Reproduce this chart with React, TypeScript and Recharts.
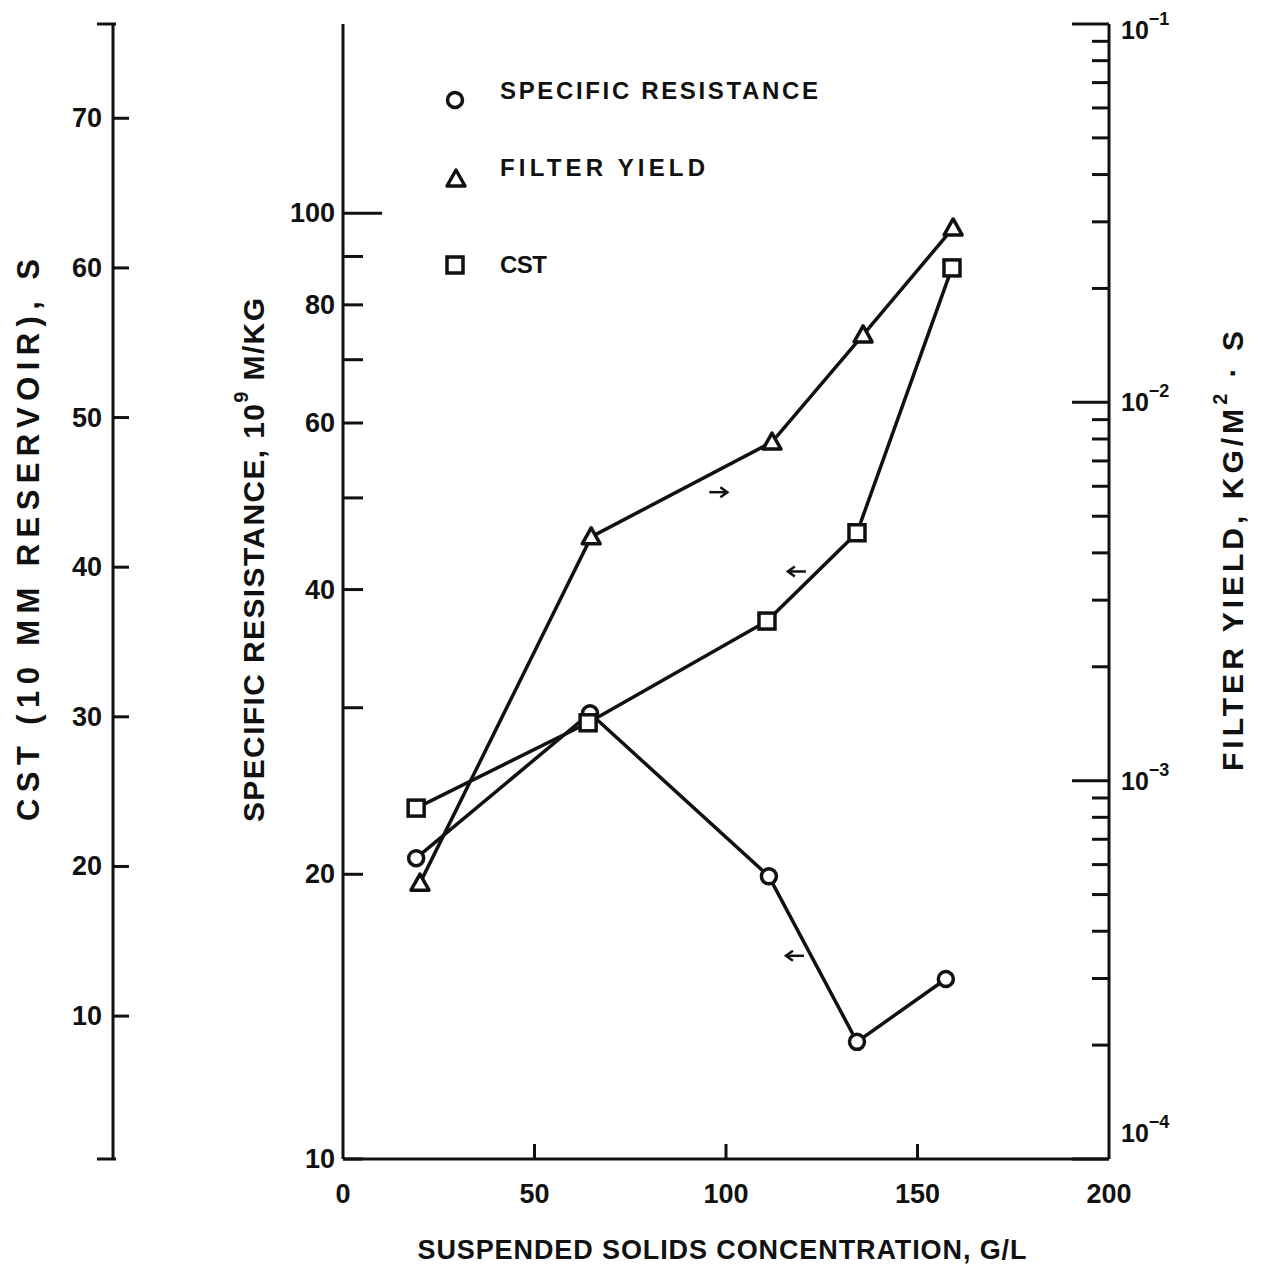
import React from 'react';
import { ComposedChart, Line, XAxis, YAxis, ReferenceDot, Legend } from 'recharts';

// suspended solids concentration (g/L) of each measured sample, per series
const srConc = [19.1, 64.5, 111.2, 134.2, 157.4];
const specificResistance = [20.8, 29.6, 19.9, 13.3, 15.5]; // 10^9 m/kg
const fyConc = [20.1, 64.8, 112.0, 135.8, 159.3];
const filterYield = [5.36e-4, 4.41e-3, 7.85e-3, 0.01507, 0.0289]; // kg/m2.s
const cstConc = [19.1, 64.0, 110.7, 134.2, 159.0];
const cstSeconds = [23.9, 29.6, 36.4, 42.3, 60.0]; // s, 10 mm reservoir

const xTicks = [0, 50, 100, 150, 200];
const srTicks = [10, 20, 30, 40, 50, 60, 70, 80, 90, 100];
const srLabelled = [10, 20, 40, 60, 80, 100];
const fyDecades = [1e-4, 1e-3, 1e-2, 1e-1];
const cstTicks = [10, 20, 30, 40, 50, 60, 70];

const srDomain = [10, 158.5];
const fyDomain = [1e-4, 1e-1];
const cstDomain = [0.45, 76.3];

// axis ids; the left axes are stacked outward from the plot in id order
const SR_AXIS = 'a-resistance';
const CST_AXIS = 'b-cst';
const FY_AXIS = 'c-yield';

// little arrows telling which scale each curve is read against
const pointers = [
  { x: 98, y: 50.7, dir: 1 },
  { x: 118.5, y: 41.8, dir: -1 },
  { x: 118, y: 16.4, dir: -1 },
];

const INK = '#111';
const FONT = '"Liberation Sans", Arial, Helvetica, sans-serif';
const STROKE = 3.5;

const toPoints = (xs: number[], ys: number[]) => xs.map((x, i) => ({ x, y: ys[i] }));
const srData = toPoints(srConc, specificResistance);
const fyData = toPoints(fyConc, filterYield);
const cstData = toPoints(cstConc, cstSeconds);

const fyTicks = [
  ...fyDecades.slice(0, -1).flatMap((d) => [1, 2, 3, 4, 5, 6, 7, 8, 9].map((m) => d * m)),
  fyDecades[fyDecades.length - 1],
];
const isDecade = (v: number) => Math.abs(Math.log10(v) - Math.round(Math.log10(v))) < 1e-6;

function CircleMark({ cx, cy }: any) {
  return <circle cx={cx} cy={cy} r={7.5} fill="#fff" stroke={INK} strokeWidth={STROKE} />;
}
function TriangleMark({ cx, cy }: any) {
  return (
    <path
      d={`M${cx},${cy - 9} L${cx + 9},${cy + 7} L${cx - 9},${cy + 7} Z`}
      fill="#fff"
      stroke={INK}
      strokeWidth={STROKE}
      strokeLinejoin="round"
    />
  );
}
function SquareMark({ cx, cy }: any) {
  return <rect x={cx - 8} y={cy - 8} width={16} height={16} fill="#fff" stroke={INK} strokeWidth={STROKE} />;
}

const tickText = { fontFamily: FONT, fontWeight: 700, fill: INK } as const;

function BottomTick({ x, y, payload }: any) {
  const v = payload.value;
  const inner = v !== xTicks[0] && v !== xTicks[xTicks.length - 1];
  return (
    <g>
      {inner && <line x1={x} x2={x} y1={y} y2={y - 15} stroke={INK} strokeWidth={3} />}
      <text x={x} y={y + 35} textAnchor="middle" dominantBaseline="central" fontSize={27} {...tickText}>
        {v}
      </text>
    </g>
  );
}

function TopTick({ x, y, payload }: any) {
  const v = payload.value;
  if (v === xTicks[0] || v === xTicks[xTicks.length - 1]) return <g />;
  return <line x1={x} x2={x} y1={y} y2={y + 15} stroke={INK} strokeWidth={3} />;
}

function SrTick({ x, y, payload }: any) {
  const v = payload.value;
  const len = v === 100 ? 39 : 20;
  return (
    <g>
      <line x1={x} x2={x + len} y1={y} y2={y} stroke={INK} strokeWidth={3} />
      {srLabelled.includes(v) && (
        <text x={x - 8} y={y} textAnchor="end" dominantBaseline="central" fontSize={27} {...tickText}>
          {v}
        </text>
      )}
    </g>
  );
}

function CstTick({ x, y, payload }: any) {
  const v = payload.value;
  if (v === cstDomain[0] || v === cstDomain[1]) {
    return <line x1={x - 16} x2={x + 3} y1={y} y2={y} stroke={INK} strokeWidth={3} />;
  }
  return (
    <g>
      <line x1={x} x2={x + 16} y1={y} y2={y} stroke={INK} strokeWidth={3} />
      <text x={x - 11} y={y} textAnchor="end" dominantBaseline="central" fontSize={27} {...tickText}>
        {v}
      </text>
    </g>
  );
}

function FyTick({ x, y, payload }: any) {
  const v = payload.value;
  const major = isDecade(v);
  const exp = Math.round(Math.log10(v));
  // the top and bottom labels sit just inside the frame corners
  const ly = v === fyDomain[0] ? y - 26 : v === fyDomain[1] ? y + 6 : y;
  return (
    <g>
      <line x1={x - (major ? 37 : 17)} x2={x} y1={y} y2={y} stroke={INK} strokeWidth={3} />
      {major && (
        <text x={x + 12} y={ly} dominantBaseline="central" fontSize={25} {...tickText}>
          10
          <tspan dy={-11} fontSize={18}>
            {'\u2212' + Math.abs(exp)}
          </tspan>
        </text>
      )}
    </g>
  );
}

function Pointer({ cx, cy, dir }: any) {
  const tip = cx + dir * 9;
  return (
    <g stroke={INK} strokeWidth={2.5} fill="none">
      <line x1={cx - dir * 9} x2={tip} y1={cy} y2={cy} />
      <path d={`M${tip - dir * 7},${cy - 5} L${tip},${cy} L${tip - dir * 7},${cy + 5}`} />
    </g>
  );
}

const titleText = { fontFamily: FONT, fontWeight: 700, fill: INK } as const;

function VerticalTitle({ cx, cy, length, size, children }: any) {
  return (
    <text
      x={cx}
      y={cy}
      transform={`rotate(-90, ${cx}, ${cy})`}
      textAnchor="middle"
      dominantBaseline="central"
      textLength={length}
      lengthAdjust="spacing"
      fontSize={size}
      {...titleText}
    >
      {children}
    </text>
  );
}

const XTitle = () => (
  <text
    x={722}
    y={1250}
    textAnchor="middle"
    dominantBaseline="central"
    textLength={609}
    lengthAdjust="spacing"
    fontSize={27}
    {...titleText}
  >
    SUSPENDED SOLIDS CONCENTRATION, G/L
  </text>
);
const SrTitle = () => (
  <VerticalTitle cx={253} cy={560} length={524} size={30}>
    SPECIFIC RESISTANCE, 10
    <tspan dy={-12} fontSize={20}>9</tspan>
    <tspan dy={12}> M/KG</tspan>
  </VerticalTitle>
);
const CstTitle = () => (
  <VerticalTitle cx={28} cy={540} length={562} size={31}>
    CST (10 MM RESERVOIR), S
  </VerticalTitle>
);
const FyTitle = () => (
  <VerticalTitle cx={1232} cy={551} length={440} size={30}>
    FILTER YIELD, KG/M
    <tspan dy={-12} fontSize={20}>2</tspan>
    <tspan dy={12}> · S</tspan>
  </VerticalTitle>
);

// legend rows keyed by series id: marker centre and text centre, relative to the legend box
const legendRows: Record<string, any> = {
  sr: { Mark: CircleMark, mx: 25, my: 40, ty: 30, len: 318 },
  fy: { Mark: TriangleMark, mx: 26, my: 119, ty: 107, len: 205 },
  cst: { Mark: SquareMark, mx: 25, my: 205, ty: 204, len: 47 },
};

function LegendBox({ payload }: any) {
  return (
    <svg width={420} height={240}>
      {(payload || []).map((entry: any) => {
        const row = legendRows[entry.payload?.id ?? entry.id];
        if (!row) return null;
        const { Mark } = row;
        return (
          <g key={entry.value}>
            <Mark cx={row.mx} cy={row.my} />
            <text
              x={70}
              y={row.ty}
              dominantBaseline="central"
              textLength={row.len}
              lengthAdjust="spacing"
              fontFamily={FONT}
              fontWeight={700}
              fontSize={24}
              fill={INK}
            >
              {entry.value}
            </text>
          </g>
        );
      })}
    </svg>
  );
}

export default function App() {
  return (
    <div style={{ position: 'absolute', left: 0, top: 0, width: 1266, height: 1266, background: '#fff' }}>
      <ComposedChart width={1266} height={1266} margin={{ top: 24, right: 0, bottom: 0, left: 0 }}>
        <XAxis
          dataKey="x"
          type="number"
          domain={[0, 200]}
          ticks={xTicks}
          interval={0}
          height={107}
          tickSize={0}
          tickMargin={0}
          tickLine={false}
          axisLine={{ stroke: INK, strokeWidth: 3 }}
          tick={<BottomTick />}
          label={<XTitle />}
        />
        <XAxis
          xAxisId="top"
          orientation="top"
          type="number"
          domain={[0, 200]}
          ticks={xTicks}
          interval={0}
          height={0}
          tickSize={0}
          tickMargin={0}
          tickLine={false}
          axisLine={{ stroke: INK, strokeWidth: 3 }}
          tick={<TopTick />}
        />
        <YAxis
          yAxisId={SR_AXIS}
          type="number"
          scale="log"
          domain={srDomain}
          allowDataOverflow
          ticks={srTicks}
          interval={0}
          width={230}
          tickSize={0}
          tickMargin={0}
          tickLine={false}
          axisLine={{ stroke: INK, strokeWidth: 3 }}
          tick={<SrTick />}
          label={<SrTitle />}
        />
        <YAxis
          yAxisId={CST_AXIS}
          type="number"
          domain={cstDomain}
          allowDataOverflow
          ticks={[cstDomain[0], ...cstTicks, cstDomain[1]]}
          interval={0}
          width={113}
          tickSize={0}
          tickMargin={0}
          tickLine={false}
          axisLine={{ stroke: INK, strokeWidth: 3 }}
          tick={<CstTick />}
          label={<CstTitle />}
        />
        <YAxis
          yAxisId={FY_AXIS}
          orientation="right"
          type="number"
          scale="log"
          domain={fyDomain}
          allowDataOverflow
          ticks={fyTicks}
          interval={0}
          width={157}
          tickSize={0}
          tickMargin={0}
          tickLine={false}
          axisLine={{ stroke: INK, strokeWidth: 3 }}
          tick={<FyTick />}
          label={<FyTitle />}
        />
        <Legend
          layout="vertical"
          align="center"
          verticalAlign="middle"
          wrapperStyle={{ left: 430, top: 60, width: 420, height: 240 }}
          content={<LegendBox />}
        />
        <Line
          id="sr"
          name="SPECIFIC RESISTANCE"
          yAxisId={SR_AXIS}
          data={srData}
          dataKey="y"
          type="linear"
          stroke={INK}
          strokeWidth={STROKE}
          dot={(p: any) => <CircleMark key={`sr-${p.index}`} cx={p.cx} cy={p.cy} />}
          activeDot={false}
          isAnimationActive={false}
        />
        <Line
          id="fy"
          name="FILTER YIELD"
          yAxisId={FY_AXIS}
          data={fyData}
          dataKey="y"
          type="linear"
          stroke={INK}
          strokeWidth={STROKE}
          dot={(p: any) => <TriangleMark key={`fy-${p.index}`} cx={p.cx} cy={p.cy} />}
          activeDot={false}
          isAnimationActive={false}
        />
        <Line
          id="cst"
          name="CST"
          yAxisId={CST_AXIS}
          data={cstData}
          dataKey="y"
          type="linear"
          stroke={INK}
          strokeWidth={STROKE}
          dot={(p: any) => <SquareMark key={`cst-${p.index}`} cx={p.cx} cy={p.cy} />}
          activeDot={false}
          isAnimationActive={false}
        />
        {pointers.map((p, i) => (
          <ReferenceDot
            key={i}
            yAxisId={SR_AXIS}
            x={p.x}
            y={p.y}
            r={1}
            shape={(s: any) => <Pointer cx={s.cx} cy={s.cy} dir={p.dir} />}
          />
        ))}
      </ComposedChart>
    </div>
  );
}
